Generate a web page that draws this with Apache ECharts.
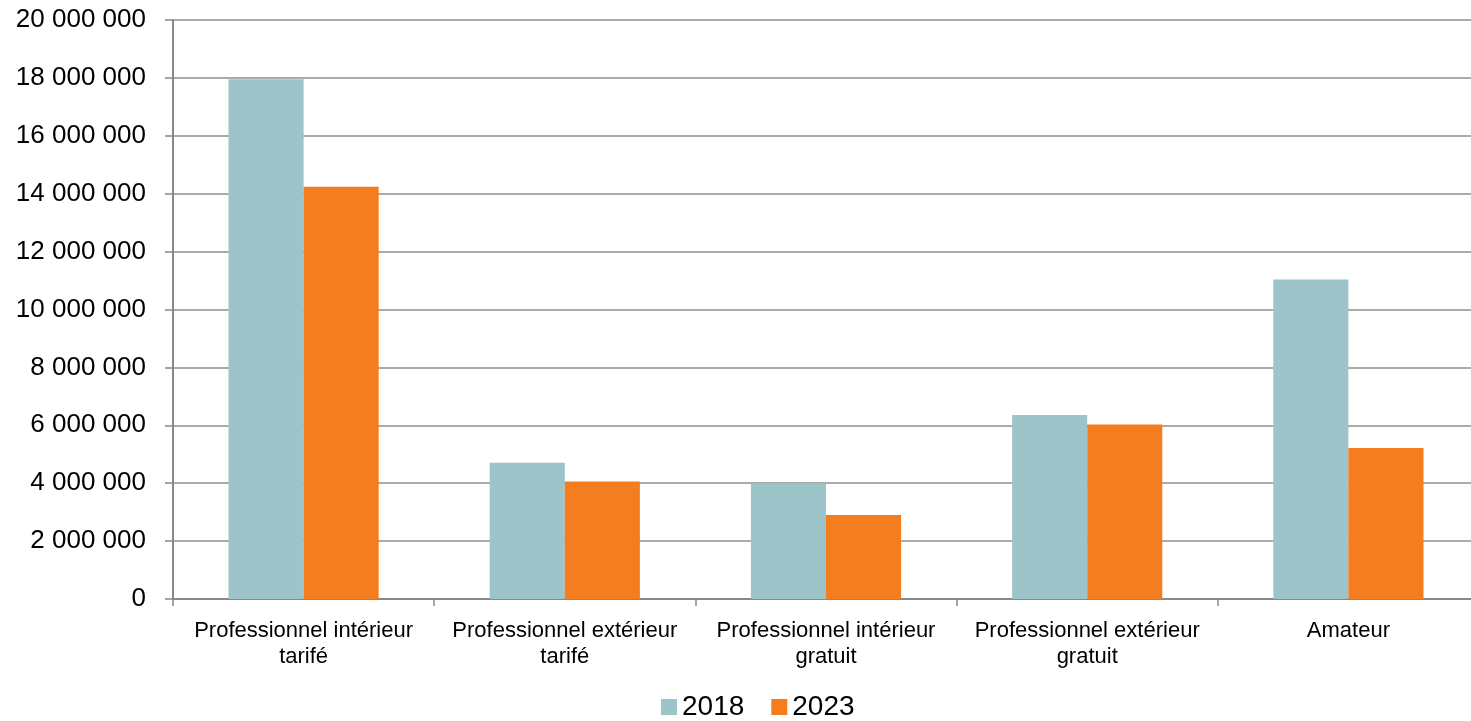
<!DOCTYPE html>
<html>
<head>
<meta charset="utf-8">
<script src="https://cdn.jsdelivr.net/npm/echarts@6/dist/echarts.min.js"></script>
<style>
html,body{margin:0;padding:0;background:#fff;overflow:hidden;}
#c{width:1479px;height:721px;}
</style>
</head>
<body>
<div id="c"></div>
<script>
const categories = [
  "Professionnel intérieur\ntarifé",
  "Professionnel extérieur\ntarifé",
  "Professionnel intérieur\ngratuit",
  "Professionnel extérieur\ngratuit",
  "Amateur"
];
const seriesNames = ["2018", "2023"];
const values2018 = [17950000, 4710000, 3990000, 6360000, 11040000];
const values2023 = [14240000, 4060000, 2900000, 6030000, 5220000];

const colors = ["#9DC4C8", "#F47D20"];
const font = "Liberation Sans, Arial, sans-serif";

function fmt(v) {
  return String(Math.round(v)).replace(/\B(?=(\d{3})+(?!\d))/g, " ");
}

const chart = echarts.init(document.getElementById('c'), null, {renderer: 'canvas'});
chart.setOption({
  animation: false,
  backgroundColor: '#fff',
  grid: {left: 173, top: 20, right: 0, bottom: 122, containLabel: false},
  legend: {
    data: seriesNames,
    left: 656, top: 688,
    itemWidth: 16, itemHeight: 16, itemGap: 27,
    icon: 'rect',
    textStyle: {fontFamily: font, fontSize: 28, color: '#000'}
  },
  xAxis: {
    type: 'category',
    data: categories,
    axisLine: {lineStyle: {color: '#888', width: 2}},
    axisTick: {show: true, length: 7, lineStyle: {color: '#888', width: 1.5}},
    axisLabel: {fontFamily: font, fontSize: 22, color: '#000', margin: 19, lineHeight: 26, interval: 0}
  },
  yAxis: {
    type: 'value',
    min: 0, max: 20000000, interval: 2000000,
    axisLine: {show: true, lineStyle: {color: '#888', width: 2}},
    axisTick: {show: true, length: 8, lineStyle: {color: '#888', width: 1.5}},
    splitLine: {lineStyle: {color: '#8f8f8f', width: 1.5}},
    axisLabel: {fontFamily: font, fontSize: 26, color: '#000', margin: 27, formatter: fmt}
  },
  series: [
    {name: seriesNames[0], type: 'bar', data: values2018, itemStyle: {color: colors[0]}, barGap: '0%', barCategoryGap: '42.5%'},
    {name: seriesNames[1], type: 'bar', data: values2023, itemStyle: {color: colors[1]}, barGap: '0%', barCategoryGap: '42.5%'}
  ]
});
</script>
</body>
</html>
